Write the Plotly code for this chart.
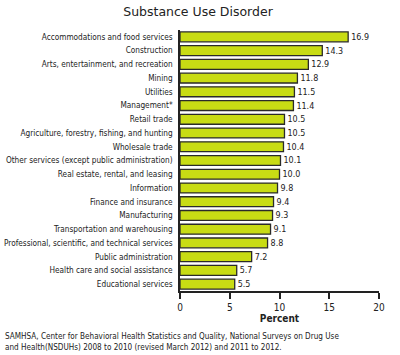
import plotly.graph_objects as go

categories = [
    "Accommodations and food services",
    "Construction",
    "Arts, entertainment, and recreation",
    "Mining",
    "Utilities",
    "Management*",
    "Retail trade",
    "Agriculture, forestry, fishing, and hunting",
    "Wholesale trade",
    "Other services (except public administration)",
    "Real estate, rental, and leasing",
    "Information",
    "Finance and insurance",
    "Manufacturing",
    "Transportation and warehousing",
    "Professional, scientific, and technical services",
    "Public administration",
    "Health care and social assistance",
    "Educational services",
]
values = [16.9, 14.3, 12.9, 11.8, 11.5, 11.4, 10.5, 10.5, 10.4, 10.1, 10.0,
          9.8, 9.4, 9.3, 9.1, 8.8, 7.2, 5.7, 5.5]
x_ticks = [0, 5, 10, 15, 20]

title_text = "Substance Use Disorder"
x_title = "Percent"
source_lines = [
    "SAMHSA, Center for Behavioral Health Statistics and Quality, National Surveys on Drug Use",
    "and Health(NSDUHs) 2008 to 2010 (revised March 2012) and 2011 to 2012.",
]

narrow = "DejaVu Sans Condensed, sans-serif"

fig = go.Figure(go.Bar(
    x=values, y=categories, orientation="h",
    marker=dict(color="#c8dc14", line=dict(color="#2a2a2a", width=1.3)),
    width=0.72,
    text=[f"{v:.1f}" for v in values], textposition="outside",
    textfont=dict(family=narrow, size=9, color="#222"),
    cliponaxis=False,
))

fig.update_layout(
    width=400, height=355,
    margin=dict(l=180, r=21, t=30, b=64),
    paper_bgcolor="white", plot_bgcolor="white",
    showlegend=False,
    title=dict(text=title_text, x=0.495, xanchor="center", y=1 - 12 / 355, yanchor="middle",
               font=dict(family="DejaVu Sans, sans-serif", size=12.5, color="#222")),
    font=dict(family=narrow, color="#222"),
)
fig.update_xaxes(
    range=[0, 20], tickvals=x_ticks, ticks="outside", ticklen=6, tickwidth=1.5,
    tickcolor="#222", showline=True, linecolor="#222", linewidth=1.5,
    showgrid=False, zeroline=False, automargin=False,
    tickfont=dict(family=narrow, size=10, color="#222"),
    title=dict(text="<b>" + x_title + "</b>", standoff=3,
               font=dict(family=narrow, size=10, color="#222")),
)
fig.update_yaxes(
    autorange="reversed", showline=True, linecolor="#222", linewidth=1.5,
    showgrid=False, ticks="", ticklabelstandoff=4, automargin=False,
    tickfont=dict(family=narrow, size=8.2, color="#222"),
)
for i, line in enumerate(source_lines):
    fig.add_annotation(
        text=line, xref="paper", yref="paper", x=-177 / 199, xanchor="left",
        y=0, yshift=-(45 + 11 * i), yanchor="middle", showarrow=False,
        font=dict(family="DejaVu Sans Condensed, sans-serif", size=8.1, color="#222"),
    )

fig.write_html("out.html", config={"displayModeBar": False},
               post_script="document.body.style.margin='0';")
